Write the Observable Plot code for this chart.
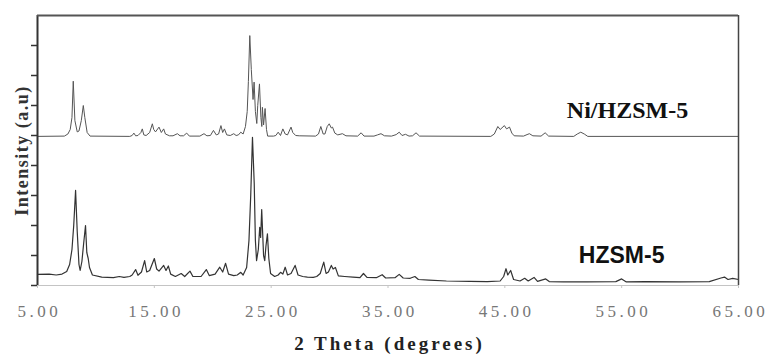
<!DOCTYPE html>
<html><head><meta charset="utf-8">
<script src="https://cdn.jsdelivr.net/npm/d3@7"></script>
<script src="https://cdn.jsdelivr.net/npm/@observablehq/plot@0.6"></script>
<style>
html,body{margin:0;padding:0;background:#fff;}
#chart svg{display:block;}
</style></head><body><div id="chart"></div>
<script>
// Ni/HZSM-5 pattern (2θ in degrees, intensity in a.u., offset upward)
const niTheta = [5.0,7.3,7.6,7.8,7.95,8.06,8.2,8.4,8.55,8.75,8.92,9.05,9.25,9.5,12.9,13.1,13.25,13.4,13.6,13.85,13.97,14.1,14.3,14.6,14.83,14.95,15.1,15.4,15.6,15.8,15.95,16.3,16.6,16.97,17.2,17.5,17.77,18.0,18.9,19.25,19.5,19.8,20.06,20.3,20.5,20.7,20.85,21.0,21.2,21.5,21.8,22.0,22.2,22.4,22.6,22.8,22.95,23.05,23.17,23.3,23.45,23.54,23.65,23.77,23.85,24.0,24.12,24.2,24.25,24.35,24.48,24.6,24.7,25.2,25.4,25.6,25.8,26.0,26.2,26.4,26.7,26.85,27.1,27.4,28.8,29.05,29.25,29.45,29.6,29.8,29.97,30.15,30.25,30.45,30.7,31.1,31.4,32.4,32.7,32.95,33.8,34.1,34.4,34.7,35.3,35.7,35.96,36.2,36.5,36.8,37.1,37.4,37.7,43.8,44.1,44.4,44.6,44.96,45.15,45.4,45.6,45.8,46.6,46.9,47.1,47.4,48.1,48.45,48.75,50.9,51.2,51.5,51.8,52.1,65.0];
const niIntensity = [4.97,4.98,5.05,5.2,5.6,6.81,5.5,5.12,5.15,5.5,6.0,5.6,5.1,4.98,4.97,5.0,5.08,4.99,5.0,5.1,5.22,5.02,5.0,5.1,5.39,5.2,5.12,5.28,5.1,5.22,5.05,4.99,4.99,5.06,4.99,4.99,5.08,4.98,4.98,5.06,4.99,5.0,5.17,5.02,5.05,5.33,5.1,5.22,5.02,5.0,5.06,5.0,5.02,5.11,5.05,5.3,5.8,6.8,8.33,7.2,6.2,6.78,5.8,5.4,6.0,6.72,5.6,5.3,5.94,5.35,5.9,5.2,4.98,4.98,5.0,5.11,5.0,5.22,5.05,5.02,5.28,5.1,5.0,4.99,4.98,5.05,5.3,5.05,5.05,5.3,5.39,5.25,5.28,5.08,5.02,5.06,4.99,4.98,5.09,4.98,4.98,5.02,5.06,4.99,4.98,5.03,5.11,5.0,5.04,4.98,4.99,5.09,4.98,4.97,5.05,5.3,5.2,5.33,5.22,5.28,5.08,4.99,4.98,5.03,5.06,4.99,4.98,5.09,4.98,4.97,5.05,5.11,5.05,4.97,4.97];

// HZSM-5 pattern
const hTheta = [5.0,6.0,6.6,7.1,7.5,7.75,7.95,8.1,8.26,8.4,8.55,8.65,8.8,8.95,9.11,9.22,9.34,9.45,9.7,10.5,11.5,12.0,12.4,12.9,13.1,13.4,13.6,13.9,14.17,14.35,14.6,15.0,15.2,15.4,15.8,16.0,16.2,16.4,16.8,17.3,17.6,18.05,18.3,19.0,19.45,19.7,20.2,20.6,20.85,21.1,21.35,21.8,22.1,22.4,22.6,22.9,23.1,23.25,23.4,23.55,23.65,23.75,23.9,24.02,24.1,24.19,24.35,24.45,24.55,24.68,24.8,24.95,25.3,25.6,25.8,26.0,26.2,26.4,26.7,27.05,27.3,27.7,28.1,28.6,28.9,29.2,29.5,29.7,29.9,30.15,30.3,30.5,30.75,31.3,32.0,32.6,32.9,33.2,34.0,34.5,34.8,35.6,35.96,36.3,36.9,37.3,37.6,38.5,40.0,42.0,43.5,44.6,44.9,45.1,45.25,45.5,45.75,46.3,46.7,47.0,47.5,47.8,48.5,48.8,50.0,52.0,54.5,55.0,55.4,57.0,60.0,62.5,63.5,63.8,64.1,64.5,65.0];
const hIntensity = [0.37,0.38,0.35,0.38,0.47,0.7,1.2,2.0,3.17,1.8,0.7,0.5,0.8,1.4,2.0,1.1,0.9,0.6,0.35,0.28,0.26,0.3,0.27,0.3,0.35,0.53,0.34,0.45,0.83,0.45,0.5,0.9,0.55,0.48,0.67,0.5,0.65,0.38,0.3,0.4,0.3,0.48,0.3,0.3,0.53,0.33,0.38,0.61,0.45,0.74,0.38,0.33,0.35,0.44,0.35,0.6,1.5,3.0,4.94,3.4,1.5,0.83,1.2,1.94,1.6,2.53,1.0,0.83,1.3,1.72,0.9,0.4,0.3,0.35,0.44,0.38,0.61,0.35,0.4,0.67,0.35,0.3,0.28,0.27,0.3,0.4,0.78,0.4,0.45,0.67,0.55,0.6,0.32,0.3,0.28,0.26,0.4,0.27,0.26,0.36,0.25,0.26,0.37,0.25,0.24,0.3,0.2,0.18,0.15,0.14,0.13,0.15,0.3,0.56,0.35,0.5,0.2,0.15,0.24,0.15,0.27,0.14,0.22,0.13,0.12,0.12,0.13,0.22,0.12,0.13,0.12,0.13,0.25,0.28,0.2,0.24,0.2];

const xTicks = [5, 15, 25, 35, 45, 55, 65];
const yTicks = [0, 1, 2, 3, 4, 5, 6, 7, 8];
const xTitle = "2 Theta (degrees)";
const yTitle = "Intensity (a.u)";
const niLabel = [{text: "Ni/HZSM-5", theta: 55.5, intensity: 5.83}];
const hLabel = [{text: "HZSM-5", theta: 55.0, intensity: 1.0}];

const niData = niTheta.map((t, i) => ({theta: t, intensity: niIntensity[i]}));
const hData = hTheta.map((t, i) => ({theta: t, intensity: hIntensity[i]}));

const chart = Plot.plot({
  width: 770,
  height: 354,
  marginLeft: 37,
  marginRight: 32,
  marginTop: 15,
  marginBottom: 69,
  x: {domain: [5, 65]},
  y: {domain: [0, 9]},
  style: {background: "white"},
  marks: [
    Plot.ruleY([0], {stroke: "#c4c4c4", strokeWidth: 1.2}),
    Plot.axisX(xTicks, {tickFormat: d => d.toFixed(2), tickSize: 3, tickPadding: 16, stroke: "#c4c4c4", fill: "#777", fontSize: 17, fontFamily: "Liberation Serif", label: null}),
    Plot.axisY(yTicks, {tickSize: 6, tickFormat: () => "", stroke: "#333", strokeWidth: 1.5, label: null}),
    Plot.line(niData, {x: "theta", y: "intensity", stroke: "#555", strokeWidth: 1}),
    Plot.line(hData, {x: "theta", y: "intensity", stroke: "#333", strokeWidth: 1.2}),
    Plot.ruleX([5], {stroke: "#333", strokeWidth: 2}),
    Plot.ruleX([65], {stroke: "#444", strokeWidth: 1.5}),
    Plot.ruleY([9], {stroke: "#555", strokeWidth: 2}),
    Plot.text(niLabel, {x: "theta", y: "intensity", text: "text", fontFamily: "Liberation Serif", fontWeight: "bold", fontSize: 24, fill: "#111"}),
    Plot.text(hLabel, {x: "theta", y: "intensity", text: "text", fontFamily: "Liberation Sans", fontWeight: "bold", fontSize: 23, fill: "#111"}),
    Plot.text([xTitle], {text: d => d, frameAnchor: "bottom", dy: 64, lineAnchor: "bottom", fontFamily: "Liberation Serif", fontWeight: "bold", fontSize: 19, fill: "#222"}),
    Plot.text([yTitle], {text: d => d, frameAnchor: "left", textAnchor: "middle", dx: -15, rotate: -90, fontFamily: "Liberation Serif", fontWeight: "bold", fontSize: 18, fill: "#333"})
  ]
});
chart.querySelectorAll('[aria-label="x-axis tick label"] text').forEach(t => { t.style.letterSpacing = "3.5px"; t.setAttribute("dx", "1.75"); });
chart.querySelectorAll('text').forEach(t => {
  if (t.textContent === xTitle) { t.style.letterSpacing = "3px"; t.setAttribute("dx", "1.5"); }
  if (t.textContent === yTitle) { t.style.letterSpacing = "1.5px"; }
});
document.getElementById("chart").appendChild(chart);
</script></body></html>
